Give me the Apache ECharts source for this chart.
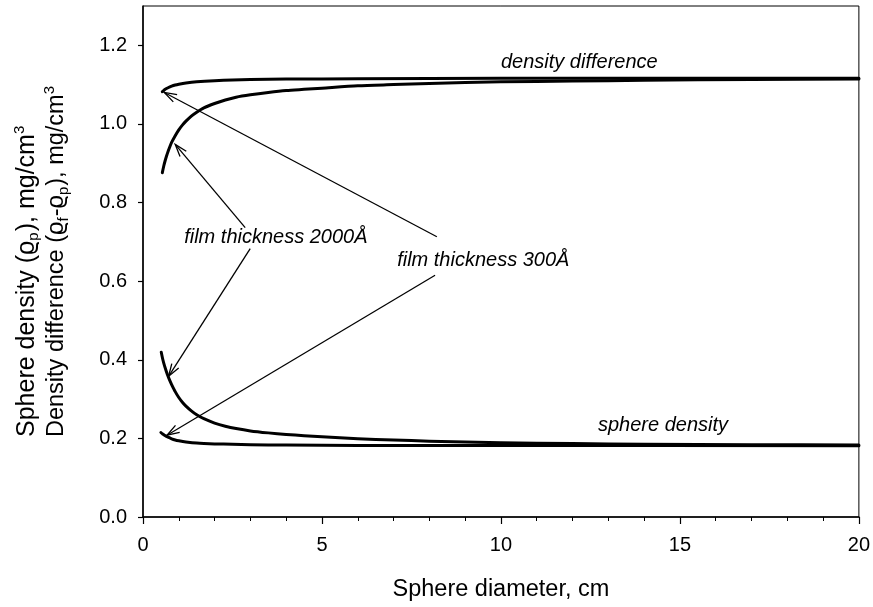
<!DOCTYPE html>
<html>
<head>
<meta charset="utf-8">
<script src="https://cdn.jsdelivr.net/npm/echarts@6/dist/echarts.min.js"></script>
<style>
  html, body { margin: 0; padding: 0; background: #fff; }
  #chart { width: 873px; height: 607px; }
</style>
</head>
<body>
<div id="chart"></div>
<script>
// density difference, film 2000 A
const ddThickX = [0.54, 0.58, 0.62, 0.66, 0.7, 0.75, 0.8, 0.9, 1.0, 1.1, 1.2, 1.35, 1.5, 1.7, 2.0, 2.3, 2.6, 3.0, 3.5, 4.0, 4.5, 5.0, 6.0, 7.0, 8.0, 10, 12, 14, 17, 20];
const ddThickY = [0.876, 0.893, 0.907, 0.919, 0.930, 0.942, 0.953, 0.970, 0.985, 0.997, 1.007, 1.020, 1.030, 1.041, 1.052, 1.061, 1.068, 1.074, 1.080, 1.085, 1.088, 1.091, 1.097, 1.100, 1.103, 1.107, 1.109, 1.111, 1.113, 1.114];
// density difference, film 300 A
const ddThinX = [0.54, 0.58, 0.62, 0.7, 0.8, 0.9, 1.0, 1.2, 1.5, 2.0, 2.5, 3.0, 4.0, 6.0, 10, 20];
const ddThinY = [1.082, 1.085, 1.088, 1.092, 1.096, 1.099, 1.101, 1.104, 1.107, 1.110, 1.112, 1.113, 1.114, 1.115, 1.116, 1.116];
// sphere density, film 2000 A
const sdThickX = [0.51, 0.55, 0.6, 0.65, 0.7, 0.75, 0.8, 0.9, 1.0, 1.1, 1.2, 1.35, 1.5, 1.7, 2.0, 2.3, 2.6, 3.0, 3.5, 4.0, 4.5, 5.0, 6.0, 7.0, 8.0, 10, 12, 14, 17, 20];
const sdThickY = [0.419, 0.402, 0.385, 0.371, 0.358, 0.347, 0.337, 0.319, 0.304, 0.292, 0.282, 0.270, 0.260, 0.250, 0.239, 0.231, 0.225, 0.219, 0.214, 0.210, 0.207, 0.204, 0.199, 0.196, 0.193, 0.189, 0.187, 0.185, 0.184, 0.183];
// sphere density, film 300 A
const sdThinX = [0.5, 0.55, 0.6, 0.7, 0.8, 0.9, 1.0, 1.2, 1.5, 2.0, 2.5, 3.0, 4.0, 6.0, 10, 20];
const sdThinY = [0.215, 0.211, 0.208, 0.203, 0.199, 0.196, 0.194, 0.191, 0.188, 0.186, 0.185, 0.184, 0.183, 0.182, 0.182, 0.181];

const xTicks = [0, 5, 10, 15, 20];
const yTicks = [0, 0.2, 0.4, 0.6, 0.8, 1.0, 1.2];

// annotation arrows: [fromX, fromY, toX, toY]
const arrows = [
  [2.855, 0.736, 0.90, 0.948],
  [2.995, 0.683, 0.715, 0.358],
  [8.21, 0.713, 0.595, 1.080],
  [8.16, 0.615, 0.67, 0.208]
];
const noteText = ['density difference', 'sphere density', 'film thickness 2000Å', 'film thickness 300Å'];
const notePos = [[10.0, 1.156], [12.71, 0.233], [1.15, 0.711], [7.10, 0.652]];

const font = '"Liberation Sans", Arial, Helvetica, sans-serif';
const zip = (xs, ys) => xs.map((x, i) => [x, ys[i]]);

const curve = (name, xs, ys) => ({
  type: 'line',
  name,
  data: zip(xs, ys),
  smooth: 0.25,
  showSymbol: false,
  lineStyle: { color: '#000', width: 3, join: 'round', cap: 'round' },
  z: 3
});

const chart = echarts.init(document.getElementById('chart'));
chart.setOption({
  animation: false,
  grid: {
    left: 143, right: 14, top: 6, bottom: 87,
    show: true, borderColor: '#000', borderWidth: 1
  },
  xAxis: {
    type: 'value',
    min: 0, max: 20, interval: 5,
    axisLine: { lineStyle: { color: '#000', width: 1.5 } },
    axisTick: { length: 7, lineStyle: { color: '#000', width: 1.2 } },
    minorTick: { show: true, splitNumber: 5, length: 4, lineStyle: { color: '#000', width: 1 } },
    splitLine: { show: false },
    axisLabel: { color: '#000', fontSize: 20, fontFamily: font, margin: 18, customValues: xTicks },
    name: 'Sphere diameter, cm',
    nameLocation: 'middle',
    nameGap: 61,
    nameTextStyle: { color: '#000', fontSize: 23.5, fontFamily: font }
  },
  yAxis: {
    type: 'value',
    min: 0, max: 1.3, interval: 0.2,
    axisLine: { lineStyle: { color: '#000', width: 1.5 } },
    axisTick: { length: 5, customValues: yTicks, lineStyle: { color: '#000', width: 1.2 } },
    splitLine: { show: false },
    axisLabel: {
      color: '#000', fontSize: 20, fontFamily: font, margin: 16,
      customValues: yTicks,
      formatter: v => v.toFixed(1)
    }
  },
  graphic: [{
    type: 'text',
    x: 42, y: 437,
    rotation: Math.PI / 2,
    style: {
      text: '{a|Sphere density (ϱ}{sb|p}{a|), mg/cm}{sp|3}\n' +
            '{b|Density difference (ϱ}{sb|f}{b|-ϱ}{sb|p}{b|), mg/cm}{sp|3}',
      align: 'left',
      verticalAlign: 'middle',
      fill: '#000',
      rich: {
        a: { fontSize: 25, lineHeight: 30, fontFamily: font },
        b: { fontSize: 23.5, lineHeight: 30, fontFamily: font },
        sb: { fontSize: 15, lineHeight: 15, fontFamily: font, verticalAlign: 'bottom', padding: [0, 1, 1, 0] },
        sp: { fontSize: 15, lineHeight: 15, fontFamily: font, verticalAlign: 'top' }
      }
    }
  }],
  series: [
    curve('dd2000', ddThickX, ddThickY),
    curve('dd300', ddThinX, ddThinY),
    curve('sd2000', sdThickX, sdThickY),
    curve('sd300', sdThinX, sdThinY),
    {
      type: 'custom',
      name: 'arrows',
      data: arrows,
      encode: { x: [0, 2], y: [1, 3] },
      z: 4,
      renderItem: (params, api) => {
        const p1 = api.coord([api.value(0), api.value(1)]);
        const p2 = api.coord([api.value(2), api.value(3)]);
        const ang = Math.atan2(p2[1] - p1[1], p2[0] - p1[0]);
        const len = 13, spread = 0.32;
        const h1 = [p2[0] - len * Math.cos(ang - spread), p2[1] - len * Math.sin(ang - spread)];
        const h2 = [p2[0] - len * Math.cos(ang + spread), p2[1] - len * Math.sin(ang + spread)];
        return {
          type: 'group',
          children: [
            { type: 'line', shape: { x1: p1[0], y1: p1[1], x2: p2[0], y2: p2[1] },
              style: { stroke: '#000', lineWidth: 1.3 } },
            { type: 'polyline', shape: { points: [h1, p2, h2] },
              style: { stroke: '#000', lineWidth: 1.3, fill: null } }
          ]
        };
      }
    },
    {
      type: 'custom',
      name: 'notes',
      data: notePos,
      encode: { x: 0, y: 1 },
      z: 5,
      renderItem: (params, api) => {
        const p = api.coord([api.value(0), api.value(1)]);
        return {
          type: 'text',
          x: p[0], y: p[1],
          style: {
            text: noteText[params.dataIndex],
            fill: '#000',
            font: 'italic 20px ' + font,
            align: 'left',
            verticalAlign: 'middle'
          }
        };
      }
    }
  ]
});
</script>
</body>
</html>
